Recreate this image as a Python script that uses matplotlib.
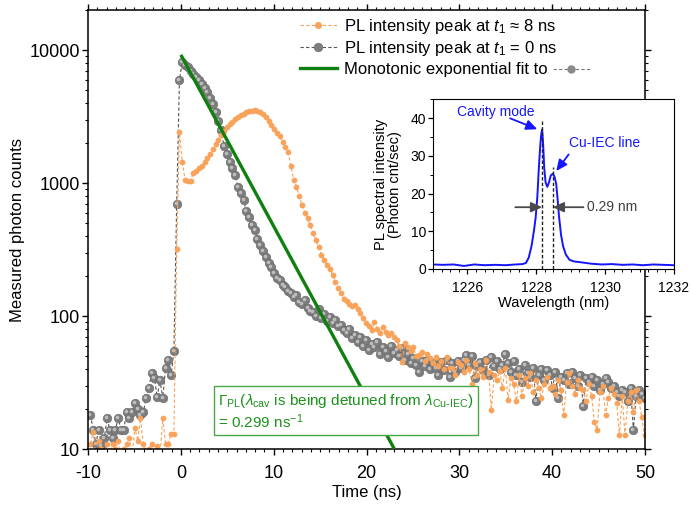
import matplotlib
matplotlib.use("Agg")

import matplotlib.pyplot as plt
import matplotlib.transforms as mtransforms
import numpy as np
from matplotlib.lines import Line2D
from matplotlib.ticker import MultipleLocator, LogLocator, NullFormatter, FuncFormatter

plt.rcParams["font.family"] = ["Liberation Sans", "DejaVu Sans"]
plt.rcParams["mathtext.fontset"] = "custom"
plt.rcParams["mathtext.rm"] = "Liberation Sans"
plt.rcParams["mathtext.it"] = "Liberation Sans:italic"
plt.rcParams["mathtext.bf"] = "Liberation Sans:bold"
plt.rcParams["axes.unicode_minus"] = False

# TCSPC time bins (ns): first bin and bin width
T_START = -9.75
T_STEP = 0.3

# PL intensity peak at t1 ~ 8 ns (orange), one row = 10 bins = 3 ns
counts_t8 = [
    11, 13.5, 9, 11.5, 10, 8.5, 11, 9, 11, 10,
    11.5, 8, 10, 11, 12, 9, 14.5, 11.5, 17, 11,
    9, 10, 11, 9, 10.5, 9, 17, 11, 11, 13,
    13, 320, 2400, 1450, 1060, 1030, 1040, 1200, 1230, 1300,
    1350, 1430, 1540, 1650, 1800, 1950, 2120, 2300, 2480, 2640,
    2780, 2900, 3020, 3120, 3230, 3330, 3400, 3460, 3500, 3520,
    3480, 3420, 3320, 3150, 2950, 2750, 2550, 2380, 2250, 2050,
    1880, 1700, 1350, 1060, 940, 800, 680, 600, 550, 480,
    420, 370, 330, 290, 265, 240, 225, 205, 180, 162,
    150, 134, 130, 124, 118, 121, 112, 105, 96, 88,
    84, 78, 90, 80, 74, 82, 76, 72, 74, 70,
    66, 60, 45, 63, 58, 55, 58, 50, 51, 54,
    46, 52, 48, 44, 49, 42, 46, 40, 49, 41,
    41, 36, 45, 43, 38, 47, 40, 31, 44, 36,
    40, 35, 46.6, 38, 19.6, 36, 33, 38.5, 29, 41,
    23.3, 34, 31, 23, 36, 25, 34, 30, 37, 27,
    33, 28.7, 24, 31, 35, 29, 30, 26, 33, 28,
    18, 32, 37, 30, 26, 33, 29, 28, 23, 31,
    25, 16, 14, 27, 30, 18, 24, 29, 26, 22,
    12.7, 25, 12.7, 23, 27, 19, 28, 23, 17.5, 12.7,
]

# PL intensity peak at t1 = 0 ns (grey)
counts_t0 = [
    18, 14, 11, 14, 10.5, 12, 17, 14, 12, 14,
    17, 14, 14, 19, 17, 19, 22, 20, 18, 19,
    24, 29, 37, 34, 24.5, 33, 24, 41, 47, 36,
    55, 700, 6000, 8100, 7750, 7400, 7000, 6600, 6300, 5950,
    5600, 5200, 4800, 4350, 3900, 3450, 2950, 2500, 1900, 1650,
    1440, 1300, 1150, 930, 840, 740, 620, 560, 480, 440,
    380, 345, 310, 280, 250, 232, 210, 192, 185, 172,
    165, 155, 150, 138, 145, 128, 124, 132, 115, 110,
    108, 100, 112, 96, 104, 92, 98, 88, 93, 84,
    86, 78, 74, 80, 68, 72, 64, 70, 60, 66,
    56, 62, 58, 64, 52, 58, 55, 49, 60, 53,
    56, 50, 57, 47, 52, 44, 48, 43, 38, 46,
    42, 47, 40, 44, 41, 36, 45, 39, 47, 35,
    44, 38, 46, 41, 47, 51, 43, 50, 34, 42,
    45, 39, 47, 36, 49, 42, 46, 40, 43, 52,
    44, 38, 46, 36, 40, 32, 43, 37, 35, 41,
    23, 36, 40, 33, 39, 36, 29, 38, 24, 35,
    33, 37, 31, 38, 34, 30, 36, 21, 34, 32,
    35, 30, 33, 28, 31, 34, 32, 29, 30, 27,
    25, 28, 27, 23, 29, 14, 25, 28, 26, 24,
]

time_ns = np.round(T_START + T_STEP * np.arange(len(counts_t0)), 2)

# monotonic exponential fit (straight on log axis), end points
fit_time = [0.0, 23.0]
fit_counts = [9200, 10]

# inset: PL spectrum
wavelength_nm = [
    1225.0, 1225.3, 1225.6, 1225.9, 1226.2, 1226.5, 1226.8, 1227.1, 1227.4,
    1227.6, 1227.7, 1227.78, 1227.86, 1227.93, 1227.98, 1228.03, 1228.07,
    1228.11, 1228.14, 1228.17, 1228.2, 1228.23, 1228.27, 1228.32, 1228.37,
    1228.42, 1228.48, 1228.53, 1228.58, 1228.62, 1228.66, 1228.72, 1228.78,
    1228.86, 1228.97, 1229.1, 1229.36, 1229.6, 1229.9, 1230.2, 1230.5,
    1230.8, 1231.1, 1231.4, 1231.7, 1232.0,
]
spectral_intensity = [
    1.2, 1.1, 1.2, 0.8, 1.2, 1.0, 1.1, 1.0, 1.2,
    1.3, 1.6, 3.0, 6.0, 10.0, 13.5, 19.0, 26.0,
    32.0, 35.5, 37.0, 33.0, 27.0, 23.0, 21.8, 23.0,
    24.8, 25.3, 24.5, 22.5, 18.5, 14.0, 9.0, 6.0,
    3.8, 2.4, 2.0, 1.7, 1.4, 1.2, 1.3, 1.1,
    1.2, 1.0, 1.2, 1.1, 1.0,
]
cavity_nm = 1228.17
cu_iec_nm = 1228.48

ORANGE = "#F8A25A"
GREY = "#7d7d7d"
GREEN = "#0f800f"
BLUE = "#1515ff"

fig = plt.figure(figsize=(6.91, 5.08), dpi=100)
ax = fig.add_axes([0.1274, 0.1161, 0.8060, 0.8642])

# grey series, with a small highlight to get the "ball" look
ax.plot(time_ns, counts_t0, ls=(0, (3, 2)), lw=0.8, color="#555555",
        marker="o", ms=6.2, mfc=GREY, mec="#6a6a6a", mew=0.4, zorder=2)
hl = mtransforms.offset_copy(ax.transData, fig=fig, x=-1.0, y=1.0, units="dots")
ax.plot(time_ns, counts_t0, ls="none", marker="o", ms=2.6, mfc="#bdbdbd",
        mec="none", transform=hl, zorder=2.1)

ax.plot(time_ns, counts_t8, ls=(0, (3, 2)), lw=0.8, color=ORANGE,
        marker="o", ms=3.8, mfc=ORANGE, mec=ORANGE, mew=0.3, zorder=2.2)

ax.plot(fit_time, fit_counts, color=GREEN, lw=2.4, zorder=3, solid_capstyle="butt")

ax.set_xlim(-10, 50)
ax.set_yscale("log")
ax.set_ylim(10, 2e4)
ax.xaxis.set_major_locator(MultipleLocator(10))
ax.xaxis.set_minor_locator(MultipleLocator(1))
ax.yaxis.set_major_locator(LogLocator(base=10))
ax.yaxis.set_minor_locator(LogLocator(base=10, subs=np.arange(2, 10)))
ax.yaxis.set_minor_formatter(NullFormatter())
ax.yaxis.set_major_formatter(FuncFormatter(lambda v, _: f"{int(round(v))}"))

ax.tick_params(which="both", direction="out", top=True, right=True, labelsize=13)
ax.tick_params(which="major", length=4.5, width=1.0)
ax.tick_params(which="minor", length=2.5, width=0.8)
ax.tick_params(axis="x", pad=7)
ax.tick_params(axis="y", pad=1.5)
for s in ax.spines.values():
    s.set_linewidth(1.1)

ax.set_xlabel("Time (ns)", fontsize=12, labelpad=2)
ax.set_ylabel("Measured photon counts", fontsize=12, labelpad=3)

handles = [
    Line2D([], [], ls=(0, (3, 2)), lw=0.8, color=ORANGE, marker="o", ms=4,
           mfc=ORANGE, mec=ORANGE),
    Line2D([], [], ls=(0, (3, 2)), lw=0.8, color="#555555", marker="o", ms=6.2,
           mfc=GREY, mec="#6a6a6a", mew=0.4),
    Line2D([], [], color=GREEN, lw=2.4),
]
labels = [
    r"PL intensity peak at $t_1$ ≈ 8 ns",
    r"PL intensity peak at $t_1$ = 0 ns",
    "Monotonic exponential fit to",
]
leg = ax.legend(handles, labels, loc="upper left", bbox_to_anchor=(300 / 691, 1 - 17 / 508),
                bbox_transform=fig.transFigure, frameon=False, fontsize=12,
                numpoints=1, handlelength=2.2, handletextpad=0.45, labelspacing=0.2,
                borderpad=0, borderaxespad=0)
leg.set_zorder(5)

box_math = (r"$\Gamma_{\mathrm{PL}}$($\lambda_{\mathrm{cav}}$ is being detuned from "
            r"$\lambda_{\mathrm{Cu\text{-}IEC}}$)" "\n" r"= 0.299 ns$^{-1}$")
box_plain = (r"$\Gamma_{\mathrm{PL}}$($\lambda_{\mathrm{cav}}$ is being detuned from "
             r"$\lambda_{\mathrm{Cu-IEC}}$)" "\n" r"= 0.299 ns$^{-1}$")
box_txt = ax.text(0.2334, 0.085, box_math, transform=ax.transAxes, fontsize=11,
                  color="#1a921a", ha="left", va="center", linespacing=1.15, zorder=6,
                  bbox=dict(boxstyle="square,pad=0.25", fc="white", ec="#48a848", lw=1.0))

# inset spectrum
ins = fig.add_axes([0.6266, 0.4705, 0.3488, 0.3337])
ins.set_facecolor("white")
ins.plot(wavelength_nm, spectral_intensity, color=BLUE, lw=1.4)
ins.vlines([cavity_nm, cu_iec_nm], 0, [39.5, 27], colors="#222222",
           linestyles=(0, (2.5, 1.5)), lw=1.0)
ins.set_xlim(1225, 1232)
ins.set_ylim(0, 45)
ins.xaxis.set_major_locator(MultipleLocator(2))
ins.xaxis.set_minor_locator(MultipleLocator(0.25))
ins.yaxis.set_major_locator(MultipleLocator(10))
ins.yaxis.set_minor_locator(MultipleLocator(5))
ins.tick_params(which="both", direction="out", labelsize=10)
ins.tick_params(which="major", length=3.5, width=0.9)
ins.tick_params(which="minor", length=2, width=0.7)
ins.tick_params(axis="x", pad=5)
ins.tick_params(axis="y", pad=1.5)
for s in ins.spines.values():
    s.set_linewidth(0.8)
ins.set_xlabel("Wavelength (nm)", fontsize=10.5, labelpad=1)
ins.set_ylabel("PL spectral intensity\n(Photon cnt/sec)", fontsize=10.5, labelpad=6,
               linespacing=1.05)

blue_arrow = dict(arrowstyle="-|>,head_length=0.55,head_width=0.25", color=BLUE,
                  lw=1.3, mutation_scale=12, shrinkA=0, shrinkB=0)
grey_arrow = dict(arrowstyle="-|>,head_length=0.55,head_width=0.25", color="#4a4a4a",
                  lw=1.3, mutation_scale=12, shrinkA=0, shrinkB=0)
ins.text(1226.81, 41.6, "Cavity mode", color=BLUE, fontsize=10, ha="center", va="center")
ins.annotate("", xy=(1228.03, 37.1), xytext=(1227.24, 40.0), arrowprops=blue_arrow)
ins.text(1229.97, 33.5, "Cu-IEC line", color=BLUE, fontsize=10, ha="center", va="center")
ins.annotate("", xy=(1228.58, 26.0), xytext=(1228.94, 30.4), arrowprops=blue_arrow)
ins.annotate("", xy=(cavity_nm, 16.4), xytext=(1227.39, 16.4), arrowprops=grey_arrow)
ins.annotate("", xy=(cu_iec_nm, 16.4), xytext=(1229.37, 16.4), arrowprops=grey_arrow)
ins.text(1229.47, 16.4, "0.29 nm", color="#404040", fontsize=10, ha="left", va="center")

# draw once to check mathtext and to place the inline symbol after legend text 3
try:
    fig.canvas.draw()
except Exception:
    box_txt.set_text(box_plain)
    fig.canvas.draw()

renderer = fig.canvas.get_renderer()
bb = leg.get_texts()[2].get_window_extent(renderer)
W, H = fig.bbox.width, fig.bbox.height
x0 = (bb.x1 + 5) / W
x1 = (bb.x1 + 42) / W
yc = (bb.y0 + bb.y1) / 2 / H
sym = Line2D([x0, (x0 + x1) / 2, x1], [yc, yc, yc], transform=fig.transFigure,
             ls=(0, (3, 2)), lw=0.8, color="#777777", marker="o", ms=5,
             mfc="#8a8a8a", mec="#8a8a8a", markevery=[1])
fig.add_artist(sym)

fig.savefig("out.png", dpi=100)
